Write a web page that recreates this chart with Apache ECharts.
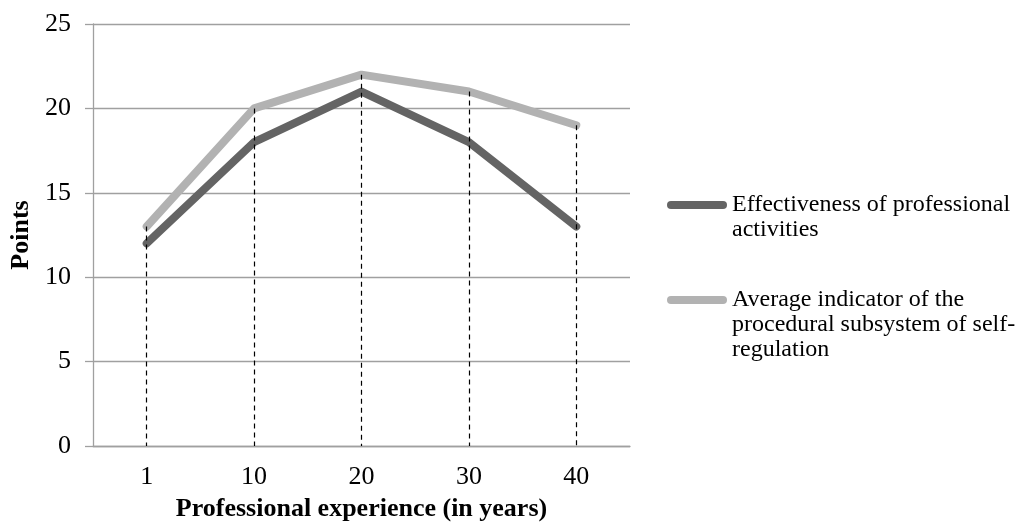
<!DOCTYPE html>
<html><head><meta charset="utf-8">
<script src="https://cdn.jsdelivr.net/npm/echarts@6/dist/echarts.min.js"></script>
<style>html,body{margin:0;padding:0;background:#fff}#c{width:1015px;height:530px}</style>
</head><body><div id="c"></div>
<script>
const categories = ['1', '10', '20', '30', '40'];
const effectiveness = [12, 18, 21, 18, 13];
const procedural = [13, 20, 22, 21, 19];
const seriesNames = ['Effectiveness of professional activities', 'Average indicator of the procedural subsystem of self-regulation'];
const legendLines = [
  ['Effectiveness of professional', 'activities'],
  ['Average indicator of the', 'procedural subsystem of self-', 'regulation']
];
const yTicks = [0, 5, 10, 15, 20, 25];

const font = '"Liberation Serif", "Times New Roman", serif';
const dropData = categories.map((c, i) => [
  { coord: [i, Math.max(effectiveness[i], procedural[i])] },
  { coord: [i, 0] }
]);
// prepend blank lines so the first text line sits level with the legend icon
function legendText(lines) {
  return new Array(lines.length - 1).fill('').concat(lines).join('\n');
}
const LH = 25;
const iconPath = 'path://M4,0 L56,0 A4,4 0 0 1 56,8 L4,8 A4,4 0 0 1 4,0 Z';
function legendFor(idx, iconY) {
  const n = 2 * legendLines[idx].length - 1;
  return {
    data: [seriesNames[idx]], orient: 'vertical', left: 667, top: iconY - n * LH / 2,
    icon: iconPath, itemWidth: 60, itemHeight: 8, itemGap: 0, padding: 0,
    formatter: () => legendText(legendLines[idx]),
    textStyle: { fontFamily: font, fontSize: 24, color: '#000', lineHeight: LH }
  };
}

const chart = echarts.init(document.getElementById('c'), null, { renderer: 'canvas' });
chart.setOption({
  animation: false,
  backgroundColor: '#fff',
  grid: { left: 93, right: 385, top: 24, bottom: 84, containLabel: false },
  xAxis: {
    type: 'category', data: categories, boundaryGap: true,
    name: 'Professional experience (in years)', nameLocation: 'middle', nameGap: 50,
    nameTextStyle: { fontFamily: font, fontSize: 26, fontWeight: 'bold', color: '#000' },
    axisLine: { lineStyle: { color: '#a0a0a0', width: 1.3 } },
    axisTick: { show: false },
    axisLabel: { fontFamily: font, fontSize: 26, color: '#000', margin: 18 },
    splitLine: { show: false }
  },
  yAxis: {
    type: 'value', min: yTicks[0], max: yTicks[yTicks.length - 1], interval: 5,
    name: 'Points', nameLocation: 'middle', nameGap: 58, nameRotate: 90,
    nameTextStyle: { fontFamily: font, fontSize: 26, fontWeight: 'bold', color: '#000' },
    axisLine: { show: true, lineStyle: { color: '#a0a0a0', width: 1.3 } },
    axisTick: { show: true, length: 8, lineStyle: { color: '#a0a0a0', width: 1.3 } },
    axisLabel: { fontFamily: font, fontSize: 26, color: '#000', margin: 22 },
    splitLine: { show: true, lineStyle: { color: '#a0a0a0', width: 1.3 } }
  },
  legend: [legendFor(0, 205), legendFor(1, 300)],
  series: [
    {
      name: seriesNames[0], type: 'line', data: effectiveness,
      symbol: 'none', lineStyle: { color: '#646464', width: 8, cap: 'round', join: 'round' },
      itemStyle: { color: '#646464' }, z: 3
    },
    {
      name: seriesNames[1], type: 'line', data: procedural,
      symbol: 'none', lineStyle: { color: '#b2b2b2', width: 8, cap: 'round', join: 'round' },
      itemStyle: { color: '#b2b2b2' }, z: 2,
      markLine: {
        silent: true, symbol: 'none', label: { show: false }, z: 10,
        lineStyle: { color: '#000', type: [5, 4], width: 1.2 },
        data: dropData
      }
    }
  ]
});
</script></body></html>
